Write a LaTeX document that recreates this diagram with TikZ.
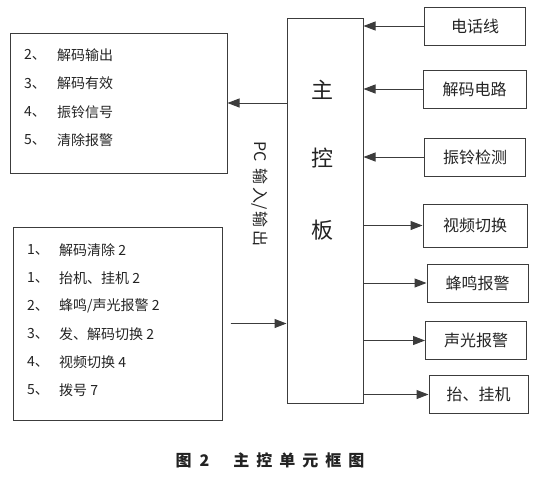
\documentclass[tikz,border=0pt]{standalone}
\usepackage{fontspec}
\usepackage{tikz}
\usetikzlibrary{arrows.meta,positioning}
\newfontfamily\cjk{Noto Sans CJK SC}
\definecolor{lineCol}{RGB}{60,60,60}
\definecolor{textCol}{RGB}{35,35,35}
\tikzset{
  unit/.style={draw=lineCol,line width=1pt,minimum width=101pt,minimum height=38pt,
               inner sep=0pt,text=textCol,font=\cjk\fontsize{16}{18}\selectfont},
  board/.style={draw=lineCol,line width=1pt,minimum width=76pt,minimum height=385pt},
  listbox/.style={draw=lineCol,line width=1pt,inner sep=0pt},
  item/.style={anchor=west,inner sep=0pt,text=textCol,font=\cjk\fontsize{14}{16}\selectfont},
  big/.style={text=textCol,font=\cjk\fontsize{22}{24}\selectfont},
  flow/.style={-{Triangle[length=12pt,width=9pt]},line width=1pt,draw=lineCol,fill=lineCol},
}

\begin{document}
\begin{tikzpicture}[x=1pt,y=-1pt]
    \useasboundingbox (0,0) rectangle (537,477);
    % --- main board ---
    \node[board] (board) at (325,210.5) {};
    \node[big] (zhu) at (322,90) {主};
    \node[big] (kong) at (322,158) {控};
    \node[big] (ban) at (322,230) {板};
    % --- inputs on the right ---
    \node[unit] (tel) at (475,26) {电话线};
    \node[unit,minimum width=103pt] (dec) at (474.5,89) {解码电路};
    \node[unit] (ring) at (475,157) {振铃检测};
    \foreach \u in {tel,dec,ring} \draw[flow] (\u.west) -- (\u.west -| board.east);
    % --- outputs on the right ---
    \node[unit,minimum width=104pt,minimum height=43pt] (video) at (475,225.5) {视频切换};
    \node[unit] (buzz) at (477.5,283) {蜂鸣报警};
    \node[unit] (alarm) at (476,340.5) {声光报警};
    \node[unit,minimum width=99pt] (hook) at (478.5,394.5) {抬、挂机};
    \foreach \u in {video,buzz,alarm,hook} \draw[flow] (\u.west -| board.east) -- (\u.west);
    % --- PC side ---
    \node[listbox,minimum width=217pt,minimum height=140pt] (outlist) at (118.5,103) {};
    \foreach \n/\t [count=\i from 0] in {2/解码输出,3/解码有效,4/振铃信号,5/清除报警} {
      \node[item] (on\i) at (24,55+28.4*\i) {\n、};
      \node[item] (ot\i) at (57,55+28.4*\i) {\t};
    }
    \node[listbox,minimum width=209pt,minimum height=193pt] (inlist) at (117.5,323.5) {};
    \foreach \n/\t [count=\i from 0] in {1/{解码清除 2},1/{抬机、挂机 2},2/{蜂鸣/声光报警 2},
                                          3/{发、解码切换 2},4/{视频切换 4},5/{拨号 7}} {
      \node[item] (in\i) at (27,250+28*\i) {\n、};
      \node[item] (it\i) at (59,250+28*\i) {\t};
    }
    \draw[flow] (board.west |- outlist.east) -- (outlist.east);
    \draw[flow] ([xshift=8pt]inlist.east) -- (board.west |- inlist.east);
    \node[rotate=-90,text=textCol,font=\cjk\fontsize{16}{18}\selectfont] (pc) at (260,194)
        {PC\hspace{6pt}输\hspace{3pt}入/\hspace{2pt}输\hspace{3pt}出};
    % --- caption ---
    \node[text=textCol,font=\cjk\bfseries\fontsize{16}{18}\selectfont] (cap) at (270,460)
        {图\hspace{8pt}2\hspace{24pt}主\hspace{7pt}控\hspace{7pt}单\hspace{7pt}元\hspace{7pt}框\hspace{7pt}图};
\end{tikzpicture}
\end{document}
